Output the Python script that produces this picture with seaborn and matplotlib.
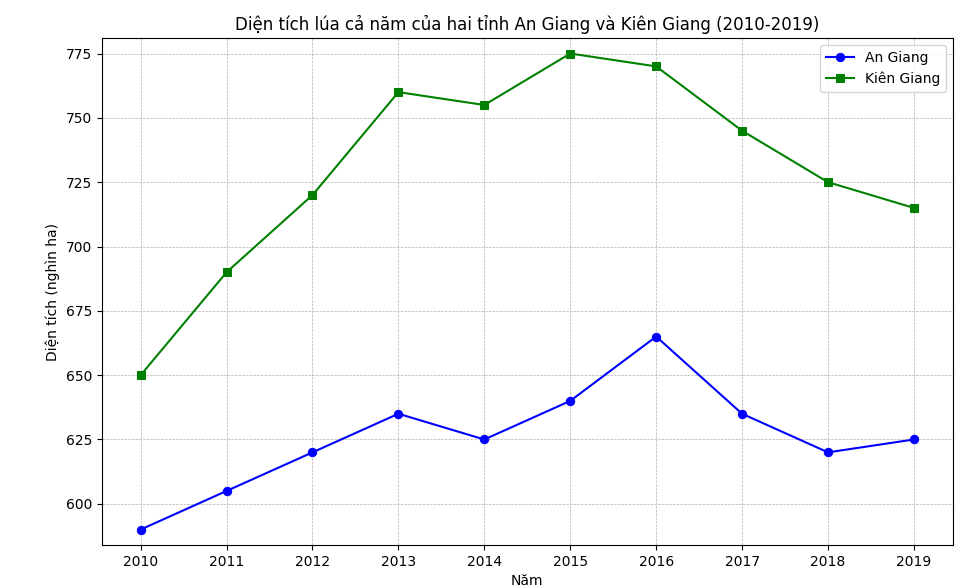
import matplotlib
matplotlib.use("Agg")
import matplotlib.pyplot as plt
import seaborn as sns
import pandas as pd

years = [2010, 2011, 2012, 2013, 2014, 2015, 2016, 2017, 2018, 2019]
an_giang = [590, 605, 620, 635, 625, 640, 665, 635, 620, 625]
kien_giang = [650, 690, 720, 760, 755, 775, 770, 745, 725, 715]

fig = plt.figure(figsize=(9.76, 5.86), dpi=100)
ax = fig.add_axes([0.1045, 0.07, 0.8715, 0.865])
sns.lineplot(x=years, y=an_giang, ax=ax, color="blue", marker="o", markersize=6,
             markeredgecolor="blue", label="An Giang")
sns.lineplot(x=years, y=kien_giang, ax=ax, color="green", marker="s", markersize=6,
             markeredgecolor="green", label="Kiên Giang")
ax.set_xticks(years)
ax.set_ylim(584, 781)
ax.set_title("Diện tích lúa cả năm của hai tỉnh An Giang và Kiên Giang (2010-2019)", fontsize=12)
ax.set_xlabel("Năm")
ax.set_ylabel("Diện tích (nghìn ha)")
ax.grid(True, linestyle="--", linewidth=0.5, color="#b0b0b0")
ax.legend(loc="upper right")
fig.savefig("out.png", dpi=100)
